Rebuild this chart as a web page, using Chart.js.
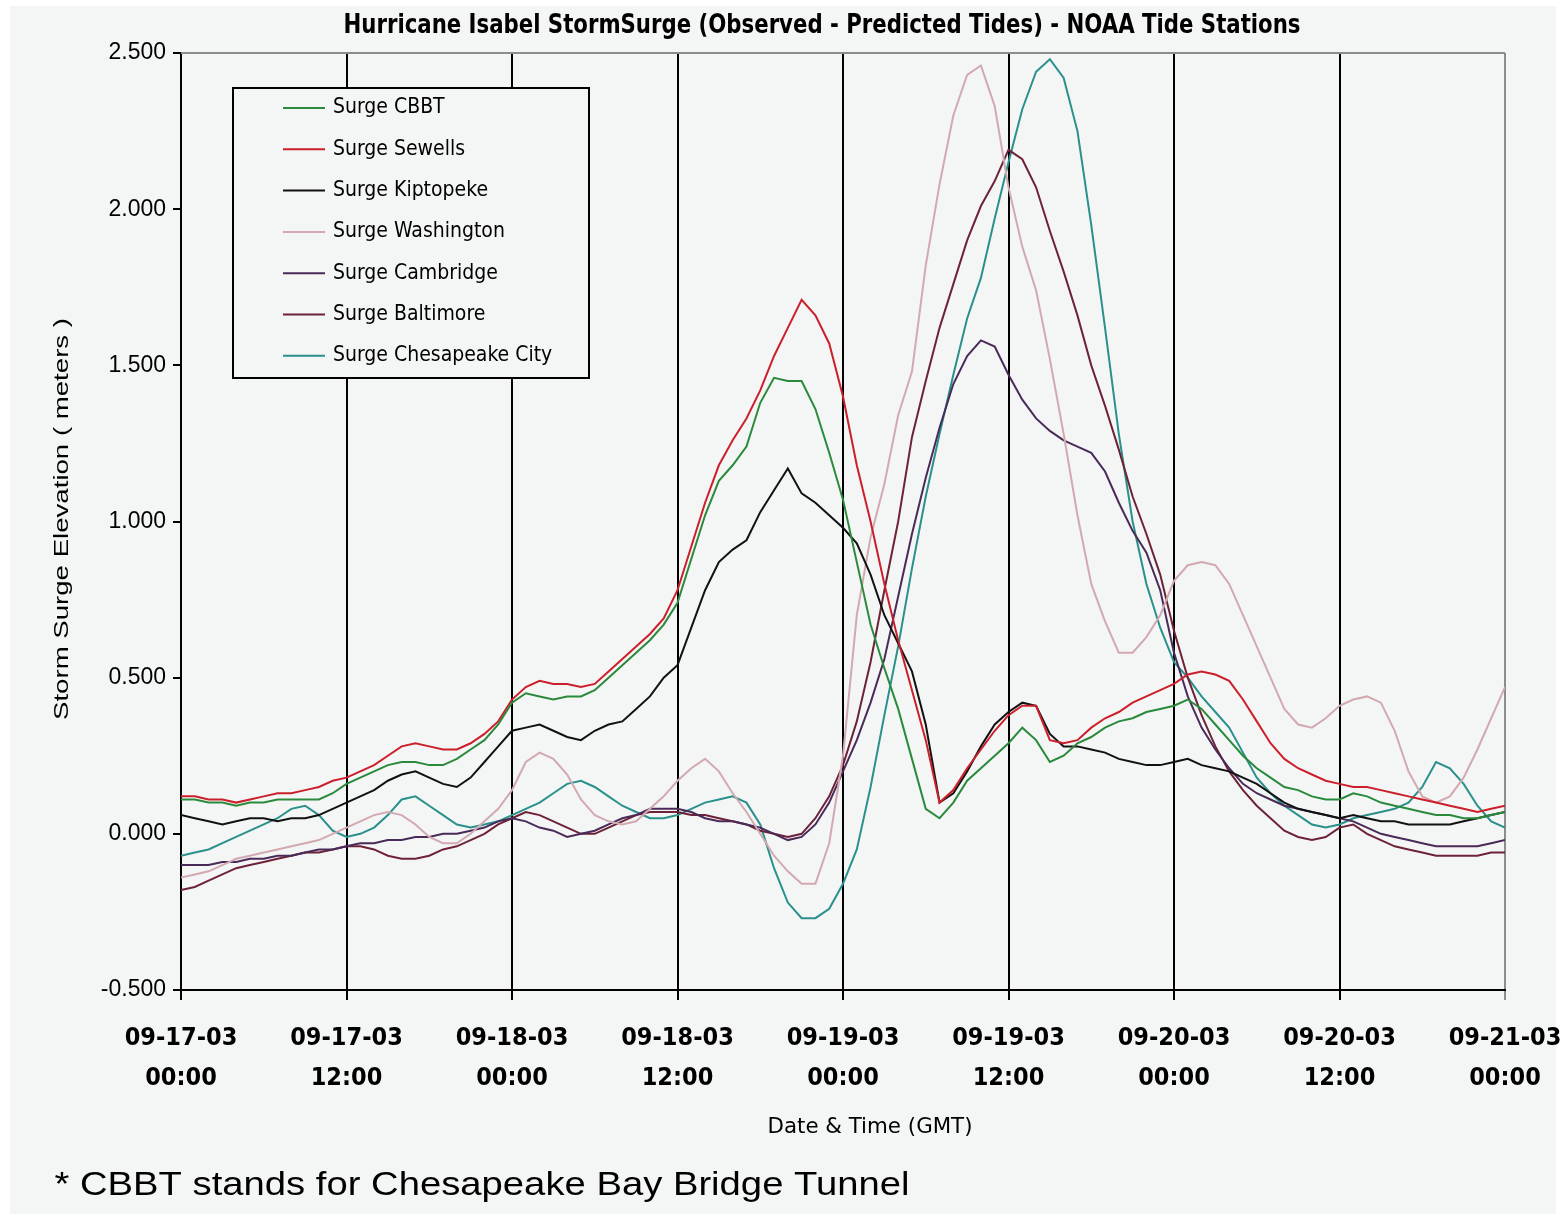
<!DOCTYPE html>
<html>
<head>
<meta charset="utf-8">
<title>Hurricane Isabel Storm Surge</title>
<script src="https://cdn.jsdelivr.net/npm/chart.js@4.4.1/dist/chart.umd.min.js"></script>
<style>
  html, body { margin: 0; padding: 0; background: #ffffff; }
  canvas { display: block; }
</style>
</head>
<body>
<canvas id="surge" width="1562" height="1220"></canvas>
<script>
// Hours since 09-17-03 00:00 GMT (hourly samples)
const hours = [
  0,1,2,3,4,5,6,7,8,9,10,11,12,13,14,15,16,17,18,19,20,21,22,23,24,
  25,26,27,28,29,30,31,32,33,34,35,36,37,38,39,40,41,42,43,44,45,46,47,48,
  49,50,51,52,53,54,55,56,57,58,59,60,61,62,63,64,65,66,67,68,69,70,71,72,
  73,74,75,76,77,78,79,80,81,82,83,84,85,86,87,88,89,90,91,92,93,94,95,96
];

// Axis tick positions (hours) and their two-line labels
const tickHours = [0, 12, 24, 36, 48, 60, 72, 84, 96];
const tickDates = ['09-17-03','09-17-03','09-18-03','09-18-03','09-19-03','09-19-03','09-20-03','09-20-03','09-21-03'];
const tickTimes = ['00:00','12:00','00:00','12:00','00:00','12:00','00:00','12:00','00:00'];

// Storm surge (observed - predicted), meters
const surgeCBBT = [
  0.11,0.11,0.10,0.10,0.09,0.10,0.10,0.11,0.11,0.11,
  0.11,0.13,0.16,0.18,0.20,0.22,0.23,0.23,0.22,0.22,
  0.24,0.27,0.30,0.35,0.42,0.45,0.44,0.43,0.44,0.44,
  0.46,0.50,0.54,0.58,0.62,0.67,0.74,0.88,1.02,1.13,
  1.18,1.24,1.38,1.46,1.45,1.45,1.36,1.22,1.07,0.87,
  0.67,0.53,0.40,0.24,0.08,0.05,0.10,0.17,0.21,0.25,
  0.29,0.34,0.30,0.23,0.25,0.29,0.31,0.34,0.36,0.37,
  0.39,0.40,0.41,0.43,0.40,0.35,0.30,0.25,0.21,0.18,
  0.15,0.14,0.12,0.11,0.11,0.13,0.12,0.10,0.09,0.08,
  0.07,0.06,0.06,0.05,0.05,0.06,0.07
];
const surgeSewells = [
  0.12,0.12,0.11,0.11,0.10,0.11,0.12,0.13,0.13,0.14,
  0.15,0.17,0.18,0.20,0.22,0.25,0.28,0.29,0.28,0.27,
  0.27,0.29,0.32,0.36,0.43,0.47,0.49,0.48,0.48,0.47,
  0.48,0.52,0.56,0.60,0.64,0.69,0.78,0.92,1.06,1.18,
  1.26,1.33,1.42,1.53,1.62,1.71,1.66,1.57,1.40,1.18,
  1.00,0.80,0.62,0.46,0.30,0.10,0.14,0.21,0.27,0.33,
  0.38,0.41,0.41,0.30,0.29,0.30,0.34,0.37,0.39,0.42,
  0.44,0.46,0.48,0.51,0.52,0.51,0.49,0.43,0.36,0.29,
  0.24,0.21,0.19,0.17,0.16,0.15,0.15,0.14,0.13,0.12,
  0.11,0.10,0.09,0.08,0.07,0.08,0.09
];
const surgeKiptopeke = [
  0.06,0.05,0.04,0.03,0.04,0.05,0.05,0.04,0.05,0.05,
  0.06,0.08,0.10,0.12,0.14,0.17,0.19,0.20,0.18,0.16,
  0.15,0.18,0.23,0.28,0.33,0.34,0.35,0.33,0.31,0.30,
  0.33,0.35,0.36,0.40,0.44,0.50,0.54,0.66,0.78,0.87,
  0.91,0.94,1.03,1.10,1.17,1.09,1.06,1.02,0.98,0.93,
  0.83,0.70,0.61,0.52,0.35,0.10,0.13,0.20,0.28,0.35,
  0.39,0.42,0.41,0.32,0.28,0.28,0.27,0.26,0.24,0.23,
  0.22,0.22,0.23,0.24,0.22,0.21,0.20,0.18,0.16,0.13,
  0.10,0.08,0.07,0.06,0.05,0.06,0.05,0.04,0.04,0.03,
  0.03,0.03,0.03,0.04,0.05,0.06,0.07
];
const surgeWashington = [
  -0.14,-0.13,-0.12,-0.10,-0.08,-0.07,-0.06,-0.05,-0.04,-0.03,
  -0.02,0.00,0.02,0.04,0.06,0.07,0.06,0.03,-0.01,-0.03,
  -0.03,0.00,0.04,0.08,0.14,0.23,0.26,0.24,0.19,0.11,
  0.06,0.04,0.03,0.04,0.08,0.12,0.17,0.21,0.24,0.20,
  0.13,0.07,0.00,-0.07,-0.12,-0.16,-0.16,-0.03,0.25,0.70,
  0.95,1.12,1.34,1.48,1.82,2.08,2.30,2.43,2.46,2.33,
  2.07,1.88,1.74,1.52,1.28,1.02,0.80,0.68,0.58,0.58,
  0.63,0.70,0.81,0.86,0.87,0.86,0.80,0.70,0.60,0.50,
  0.40,0.35,0.34,0.37,0.41,0.43,0.44,0.42,0.33,0.20,
  0.12,0.10,0.12,0.18,0.27,0.37,0.47
];
const surgeCambridge = [
  -0.10,-0.10,-0.10,-0.09,-0.09,-0.08,-0.08,-0.07,-0.07,-0.06,
  -0.05,-0.05,-0.04,-0.03,-0.03,-0.02,-0.02,-0.01,-0.01,0.00,
  0.00,0.01,0.02,0.04,0.05,0.04,0.02,0.01,-0.01,0.00,
  0.01,0.03,0.05,0.06,0.08,0.08,0.08,0.07,0.05,0.04,
  0.04,0.03,0.02,0.00,-0.02,-0.01,0.03,0.10,0.20,0.30,
  0.42,0.56,0.76,0.96,1.14,1.30,1.44,1.53,1.58,1.56,
  1.47,1.39,1.33,1.29,1.26,1.24,1.22,1.16,1.06,0.97,
  0.90,0.78,0.58,0.44,0.34,0.27,0.21,0.16,0.13,0.11,
  0.09,0.08,0.07,0.06,0.05,0.04,0.02,0.00,-0.01,-0.02,
  -0.03,-0.04,-0.04,-0.04,-0.04,-0.03,-0.02
];
const surgeBaltimore = [
  -0.18,-0.17,-0.15,-0.13,-0.11,-0.10,-0.09,-0.08,-0.07,-0.06,
  -0.06,-0.05,-0.04,-0.04,-0.05,-0.07,-0.08,-0.08,-0.07,-0.05,
  -0.04,-0.02,0.00,0.03,0.05,0.07,0.06,0.04,0.02,0.00,
  0.00,0.02,0.04,0.06,0.07,0.07,0.07,0.06,0.06,0.05,
  0.04,0.03,0.01,0.00,-0.01,0.00,0.05,0.12,0.22,0.36,
  0.55,0.78,1.00,1.27,1.45,1.62,1.76,1.90,2.01,2.09,
  2.19,2.16,2.07,1.93,1.80,1.66,1.50,1.37,1.23,1.08,
  0.96,0.83,0.65,0.50,0.38,0.28,0.20,0.14,0.09,0.05,
  0.01,-0.01,-0.02,-0.01,0.02,0.03,0.00,-0.02,-0.04,-0.05,
  -0.06,-0.07,-0.07,-0.07,-0.07,-0.06,-0.06
];
const surgeChesapeakeCity = [
  -0.07,-0.06,-0.05,-0.03,-0.01,0.01,0.03,0.05,0.08,0.09,
  0.06,0.01,-0.01,0.00,0.02,0.06,0.11,0.12,0.09,0.06,
  0.03,0.02,0.03,0.04,0.06,0.08,0.10,0.13,0.16,0.17,
  0.15,0.12,0.09,0.07,0.05,0.05,0.06,0.08,0.10,0.11,
  0.12,0.10,0.03,-0.11,-0.22,-0.27,-0.27,-0.24,-0.16,-0.05,
  0.15,0.38,0.60,0.85,1.08,1.28,1.47,1.65,1.78,1.97,
  2.15,2.32,2.44,2.48,2.42,2.25,1.95,1.62,1.28,1.00,
  0.80,0.66,0.55,0.50,0.44,0.39,0.34,0.26,0.18,0.13,
  0.09,0.06,0.03,0.02,0.03,0.05,0.06,0.07,0.08,0.10,
  0.15,0.23,0.21,0.16,0.09,0.04,0.02
];

const seriesNames = ['Surge CBBT','Surge Sewells','Surge Kiptopeke','Surge Washington','Surge Cambridge','Surge Baltimore','Surge Chesapeake City'];
const seriesColors = ['#2a8a3c','#cc1f2c','#111111','#d2a9b1','#4a2a58','#6e2238','#2a908c'];
const seriesValues = [surgeCBBT, surgeSewells, surgeKiptopeke, surgeWashington, surgeCambridge, surgeBaltimore, surgeChesapeakeCity];

const NARROW = '"DejaVu Sans Condensed", "Liberation Sans Narrow", "Arial Narrow", sans-serif';
const SANS = '"Liberation Sans", Arial, sans-serif';

// Draws text horizontally stretched/squeezed to a given width
function fitText(ctx, text, cx, cy, width, font) {
  ctx.save();
  ctx.font = font;
  const w = ctx.measureText(text).width;
  ctx.translate(cx, cy);
  ctx.scale(width / w, 1);
  ctx.textAlign = 'center';
  ctx.textBaseline = 'middle';
  ctx.fillText(text, 0, 0);
  ctx.restore();
}

const backdrop = {
  id: 'backdrop',
  beforeDraw(chart) {
    const c = chart.ctx;
    c.save();
    c.fillStyle = '#ffffff';
    c.fillRect(0, 0, chart.width, chart.height);
    c.fillStyle = '#f4f6f5';
    c.fillRect(10, 6, chart.width - 16, chart.height - 12);
    c.restore();
  }
};

const decorations = {
  id: 'decorations',
  afterDraw(chart) {
    const c = chart.ctx;
    const a = chart.chartArea;
    c.save();
    // top frame line
    c.strokeStyle = '#8c8c8c';
    c.lineWidth = 2;
    c.beginPath();
    c.moveTo(a.left, a.top);
    c.lineTo(a.right, a.top);
    c.stroke();

    c.fillStyle = '#000';
    // title
    fitText(c, 'Hurricane Isabel StormSurge (Observed - Predicted Tides) - NOAA Tide Stations',
            822, 26, 957, 'bold 26px ' + NARROW);
    // x axis title
    fitText(c, 'Date & Time (GMT)', 870, 1127, 205, '22px ' + NARROW);
    // footnote
    fitText(c, '* CBBT stands for Chesapeake Bay Bridge Tunnel', 482, 1186, 855, '33px ' + SANS);
    // y axis title
    c.save();
    c.translate(62, 519);
    c.rotate(-Math.PI / 2);
    fitText(c, 'Storm Surge Elevation ( meters )', 0, 0, 402, '21px ' + SANS);
    c.restore();

    // legend box
    const bx = 233, by = 88, bw = 356, bh = 290;
    c.fillStyle = '#f4f6f5';
    c.fillRect(bx, by, bw, bh);
    c.strokeStyle = '#000';
    c.lineWidth = 2;
    c.strokeRect(bx, by, bw, bh);
    const rowStep = 41.3;
    chart.data.datasets.forEach((ds, i) => {
      const y = by + 20 + i * rowStep;
      c.strokeStyle = ds.borderColor;
      c.lineWidth = 2;
      c.beginPath();
      c.moveTo(283, y);
      c.lineTo(325, y);
      c.stroke();
      c.fillStyle = '#000';
      c.font = '21px ' + NARROW;
      c.textAlign = 'left';
      c.textBaseline = 'middle';
      c.fillText(ds.label, 333, y);
    });
    c.restore();
  }
};

const ctx = document.getElementById('surge').getContext('2d');
new Chart(ctx, {
  type: 'line',
  data: {
    datasets: seriesNames.map((name, k) => ({
      label: name,
      data: hours.map((h, i) => ({ x: h, y: seriesValues[k][i] })),
      borderColor: seriesColors[k],
      backgroundColor: seriesColors[k],
      borderWidth: 2,
      pointRadius: 0,
      tension: 0,
      fill: false
    }))
  },
  options: {
    responsive: false,
    animation: false,
    devicePixelRatio: 1,
    layout: { padding: { left: 0, right: 57, top: 53, bottom: 0 } },
    plugins: {
      legend: { display: false },
      title: { display: false },
      tooltip: { enabled: false }
    },
    scales: {
      x: {
        type: 'linear',
        min: 0,
        max: 96,
        afterBuildTicks(scale) { scale.ticks = tickHours.map(v => ({ value: v })); },
        afterFit(scale) {
          scale.height = 230;
          // edge labels have room in the outer margins
          scale.paddingLeft = 0;
          scale.paddingRight = 0;
        },
        ticks: {
          autoSkip: false,
          maxRotation: 0,
          color: '#000',
          padding: 18,
          font: { family: NARROW, size: 25, weight: 'bold', lineHeight: 1.6 },
          callback(value) {
            const i = tickHours.indexOf(value);
            return [tickDates[i], tickTimes[i]];
          }
        },
        grid: {
          drawOnChartArea: true,
          lineWidth: 2,
          tickLength: 10,
          color: c => (c.tick && c.tick.value === 96 ? '#8c8c8c' : '#000')
        },
        border: { color: '#000', width: 2 }
      },
      y: {
        min: -0.5,
        max: 2.5,
        afterFit(scale) { scale.width = 181; },
        ticks: {
          stepSize: 0.5,
          color: '#000',
          padding: 7,
          font: { family: SANS, size: 23 },
          callback: v => v.toFixed(3)
        },
        grid: { drawOnChartArea: false, color: '#000', lineWidth: 2, tickLength: 8 },
        border: { color: '#000', width: 2 }
      }
    }
  },
  plugins: [backdrop, decorations]
});
</script>
</body>
</html>
